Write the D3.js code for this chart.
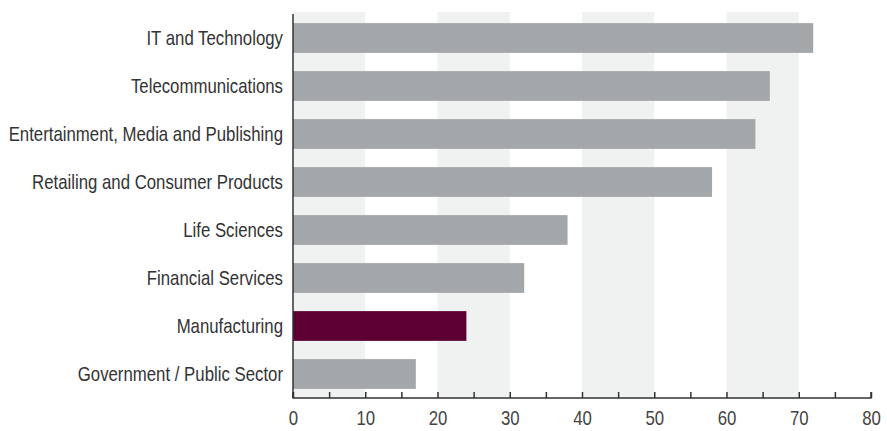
<!DOCTYPE html>
<html>
<head>
<meta charset="utf-8">
<script src="https://cdn.jsdelivr.net/npm/d3@7"></script>
<style>
  html, body { margin: 0; padding: 0; background: #fff; }
  svg { display: block; }
  text { font-family: "Liberation Sans", Arial, sans-serif; }
</style>
</head>
<body>
<svg id="chart" width="887" height="431"></svg>
<script>
// Industries and their scores
const categories = [
  "IT and Technology",
  "Telecommunications",
  "Entertainment, Media and Publishing",
  "Retailing and Consumer Products",
  "Life Sciences",
  "Financial Services",
  "Manufacturing",
  "Government / Public Sector"
];
const values = [72, 66, 64, 58, 38, 32, 24, 17];
const highlighted = "Manufacturing";
const tickValues = [0, 10, 20, 30, 40, 50, 60, 70, 80];
const minorTicks = [0, 5, 10, 15, 20, 25, 30, 35, 40, 45, 50, 55, 60, 65, 70, 75, 80];
const shadedBands = [[0, 10], [20, 30], [40, 50], [60, 70]];

const svg = d3.select("#chart");
const plotLeft = 293, plotRight = 871, plotTop = 14, plotBottom = 398;
// condensed lettering
const squeeze = 0.84;

const x = d3.scaleLinear().domain([0, 80]).range([plotLeft, plotRight]);
const y = d3.scaleBand().domain(categories).range([plotTop, plotBottom])
  .paddingInner(0.38).paddingOuter(0.19);

// alternating background columns
svg.append("g").selectAll("rect").data(shadedBands).join("rect")
  .attr("x", d => x(d[0]))
  .attr("width", d => x(d[1]) - x(d[0]))
  .attr("y", 12)
  .attr("height", plotBottom - 12)
  .attr("fill", "#eff2f0");

// bars
svg.append("g").selectAll("rect").data(categories).join("rect")
  .attr("x", x(0))
  .attr("y", d => y(d))
  .attr("height", y.bandwidth())
  .attr("width", (d, i) => x(values[i]) - x(0))
  .attr("fill", d => d === highlighted ? "#5c0034" : "#a4a7a9");

// category labels
svg.append("g").selectAll("text").data(categories).join("text")
  .attr("transform", d => `translate(${plotLeft - 10},${y(d) + y.bandwidth() / 2}) scale(${squeeze},1)`)
  .attr("dy", "0.35em")
  .attr("text-anchor", "end")
  .attr("font-size", 20)
  .attr("fill", "#333")
  .text(d => d);

// x axis: ticks every 5 pointing up, labels every 10
const xAxis = d3.axisBottom(x).tickValues(minorTicks).tickSize(-6)
  .tickFormat(d => tickValues.includes(d) ? d : "");
const gx = svg.append("g").attr("transform", `translate(0,${plotBottom})`).call(xAxis);
gx.select(".domain").attr("stroke", "#333").attr("stroke-width", 1.5)
  .attr("d", `M${plotLeft},${-6}V0H${plotRight}V${-6}`);
gx.selectAll(".tick line").attr("stroke", "#333").attr("stroke-width", 1.5);
gx.selectAll(".tick text")
  .attr("y", 13)
  .attr("transform", `scale(${squeeze},1)`)
  .attr("font-size", 20)
  .attr("fill", "#444")
  .attr("font-family", "'Liberation Sans', Arial, sans-serif");

// y axis line
svg.append("line")
  .attr("x1", plotLeft).attr("x2", plotLeft)
  .attr("y1", 14).attr("y2", plotBottom)
  .attr("stroke", "#333").attr("stroke-width", 1.5);
</script>
</body>
</html>
